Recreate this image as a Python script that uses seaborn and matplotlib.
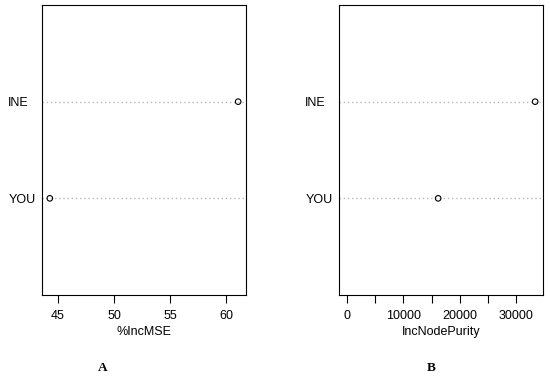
import pandas as pd
import matplotlib
matplotlib.use("Agg")
import matplotlib.pyplot as plt
import seaborn as sns

variables = ["YOU", "INE"]
inc_mse = [44.27, 61.05]
inc_node_purity = [16150, 33300]

mse_ticks = [45, 50, 55, 60]
purity_ticks = [0, 5000, 10000, 15000, 20000, 25000, 30000]
purity_labels = ["0", "", "10000", "", "20000", "", "30000"]

sns.set_style("white")
plt.rcParams["font.family"] = ["Liberation Sans", "DejaVu Sans"]
plt.rcParams["font.size"] = 9
plt.rcParams["text.color"] = "black"
plt.rcParams["xtick.color"] = "black"
plt.rcParams["ytick.color"] = "black"
plt.rcParams["axes.labelcolor"] = "black"

df = pd.DataFrame({"var": variables, "pos": [i + 1 for i in range(len(variables))],
                   "IncMSE": inc_mse, "IncNodePurity": inc_node_purity})

fig = plt.figure(figsize=(5.5, 3.81), dpi=100)
axA = fig.add_axes([0.0769, 0.2257, 0.3698, 0.7612])
axB = fig.add_axes([0.6169, 0.2257, 0.3698, 0.7612])


def dotPanel(ax, col, xlim, xlabel):
    for p in df["pos"]:
        ax.axhline(p, color="#b8b8b8", linestyle=(0, (1, 2)), linewidth=1.0, zorder=1)
    sns.scatterplot(ax=ax, data=df, x=col, y="pos", marker="o", s=16,
                    facecolor="none", edgecolor="black", linewidth=0.8, zorder=3)
    ax.set_xlim(xlim)
    ax.set_ylim(0, len(variables) + 1)
    ax.set_yticks(df["pos"], df["var"])
    ax.tick_params(axis="y", length=0, pad=24.5)
    for lbl in ax.get_yticklabels():
        lbl.set_horizontalalignment("left")
    ax.tick_params(axis="x", direction="out", length=5.5, width=0.8, color="black", pad=5, bottom=True)
    ax.set_xlabel(xlabel, labelpad=3)
    ax.set_ylabel("")
    for sp in ax.spines.values():
        sp.set_color("black")
        sp.set_linewidth(0.8)


r = max(inc_mse) - min(inc_mse)
dotPanel(axA, "IncMSE", (min(inc_mse) - 0.04 * r, max(inc_mse) + 0.04 * r), "%IncMSE")
axA.set_xticks(mse_ticks)

r = max(inc_node_purity)
dotPanel(axB, "IncNodePurity", (-0.04 * r, r * 1.04), "IncNodePurity")
axB.set_xticks(purity_ticks, purity_labels)

fig.text(103 / 550, 1 - 368 / 381, "A", ha="center", va="center", fontsize=9.5,
         fontweight="bold", family="Liberation Serif")
fig.text(431 / 550, 1 - 368 / 381, "B", ha="center", va="center", fontsize=9.5,
         fontweight="bold", family="Liberation Serif")

fig.savefig("out.png", dpi=100)
